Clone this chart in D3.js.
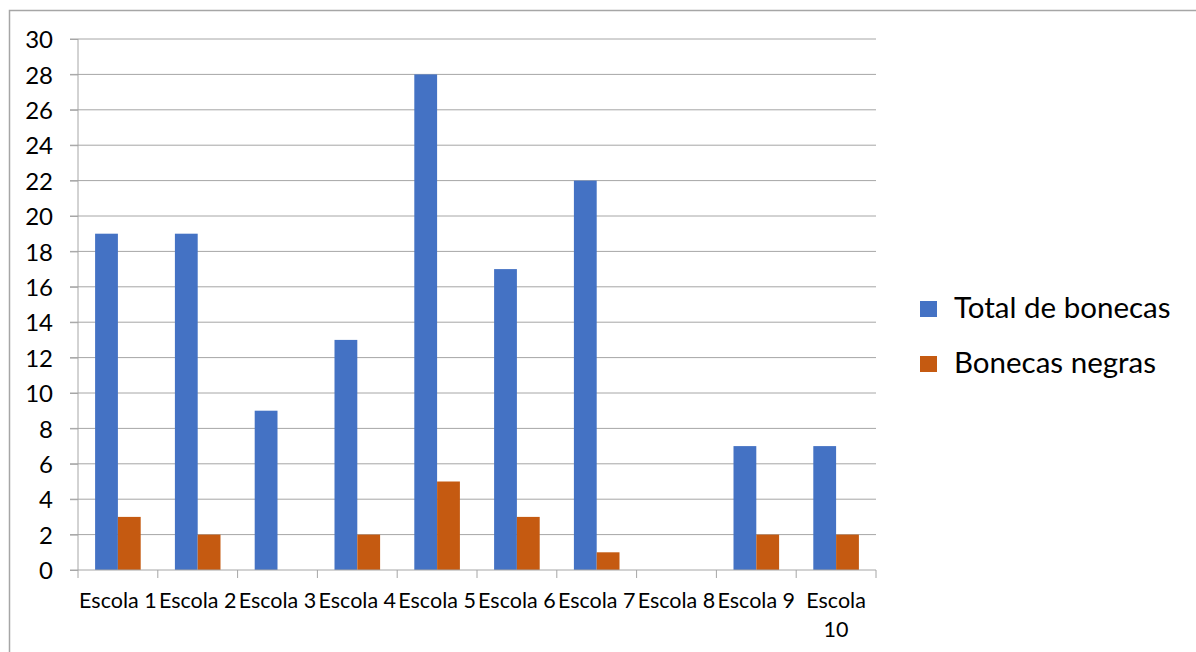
<!DOCTYPE html>
<html>
<head>
<meta charset="utf-8">
<script src="https://cdn.jsdelivr.net/npm/d3@7"></script>
<style>
  body { margin: 0; background: #fff; }
  text { font-family: Lato, "Open Sans", sans-serif; fill: #000; }
</style>
</head>
<body>
<div id="chart"></div>
<script>
// data
var escolas = ["Escola 1", "Escola 2", "Escola 3", "Escola 4", "Escola 5", "Escola 6", "Escola 7", "Escola 8", "Escola 9", "Escola 10"];
var totalBonecas = [19, 19, 9, 13, 28, 17, 22, 0, 7, 7];
var bonecasNegras = [3, 2, 0, 2, 5, 3, 1, 0, 2, 2];
var seriesNames = ["Total de bonecas", "Bonecas negras"];
var seriesColors = ["#4472C4", "#C55A11"];
var yTicks = d3.range(0, 31, 2);

var W = 1196, H = 652;
var margin = {top: 39, left: 78, right: 320, bottom: 82};
var width = W - margin.left - margin.right,   // 798
    height = H - margin.top - margin.bottom;  // 531

var svg = d3.select("#chart").append("svg")
    .attr("width", W)
    .attr("height", H);

// outer chart border
svg.append("rect")
    .attr("x", 9.5).attr("y", 10.5)
    .attr("width", W + 20).attr("height", H + 20)
    .attr("fill", "none")
    .attr("stroke", "#a6a6a6")
    .attr("stroke-width", 1.5);

var g = svg.append("g")
    .attr("transform", "translate(" + margin.left + "," + margin.top + ")");

var x0 = d3.scaleBand().domain(escolas).range([0, width]).padding(0);
var bw = x0.bandwidth();
var gap = bw * 0.75 / 3.5;
var x1 = d3.scaleBand().domain([0, 1]).range([gap, bw - gap]).padding(0);
var y = d3.scaleLinear().domain([0, 30]).range([height, 0]);

// gridlines
g.selectAll(".grid")
  .data(yTicks.filter(function(d) { return d > 0; }))
  .enter().append("line")
    .attr("x1", -8).attr("x2", width)
    .attr("y1", function(d) { return y(d); })
    .attr("y2", function(d) { return y(d); })
    .attr("stroke", "#a6a6a6")
    .attr("stroke-width", 1);

// y axis
var yAxis = g.append("g")
    .call(d3.axisLeft(y).tickValues(yTicks).tickSize(8).tickPadding(8));
yAxis.select(".domain").attr("stroke", "#a6a6a6").attr("d", "M0," + height + "V0");
yAxis.selectAll(".tick line").attr("stroke", "#a6a6a6");
yAxis.selectAll(".tick text")
    .style("font-size", "24px")
    .attr("x", -25)
    .attr("dy", "0.36em");

// bars
var rows = escolas.map(function(e, i) { return {escola: e, vals: [totalBonecas[i], bonecasNegras[i]]}; });
var groups = g.selectAll(".grp")
  .data(rows)
  .enter().append("g")
    .attr("transform", function(d) { return "translate(" + x0(d.escola) + ",0)"; });

groups.selectAll("rect")
  .data(function(d) { return d.vals.map(function(v, j) { return {j: j, v: v}; }); })
  .enter().append("rect")
    .attr("x", function(d) { return x1(d.j); })
    .attr("width", x1.bandwidth())
    .attr("y", function(d) { return y(d.v); })
    .attr("height", function(d) { return height - y(d.v); })
    .attr("fill", function(d) { return seriesColors[d.j]; });

// x axis
var xAxis = g.append("g")
    .attr("transform", "translate(0," + height + ")");
xAxis.append("line")
    .attr("x1", -8).attr("x2", width)
    .attr("stroke", "#a6a6a6");
xAxis.selectAll(".xt")
  .data(d3.range(escolas.length + 1))
  .enter().append("line")
    .attr("x1", function(i) { return i * bw; })
    .attr("x2", function(i) { return i * bw; })
    .attr("y1", 0).attr("y2", 8)
    .attr("stroke", "#a6a6a6");

xAxis.selectAll(".xl")
  .data(escolas)
  .enter().append("text")
    .attr("x", function(d) { return x0(d) + bw / 2; })
    .attr("y", 38)
    .attr("text-anchor", "middle")
    .style("font-size", "21.5px")
    .each(function(d) {
      var t = d3.select(this);
      if (d === "Escola 10") {
        t.append("tspan").attr("x", x0(d) + bw / 2).text("Escola");
        t.append("tspan").attr("x", x0(d) + bw / 2).attr("dy", 29).text("10");
      } else {
        t.text(d);
      }
    });

// legend
var legend = svg.append("g").attr("transform", "translate(920,0)");
seriesNames.forEach(function(name, i) {
  var ly = 318 + i * 55;
  legend.append("rect")
      .attr("x", 0).attr("y", ly - 17)
      .attr("width", 17).attr("height", 16)
      .attr("fill", seriesColors[i]);
  legend.append("text")
      .attr("x", 34).attr("y", ly)
      .style("font-size", "29.5px")
      .text(name);
});
</script>
</body>
</html>
